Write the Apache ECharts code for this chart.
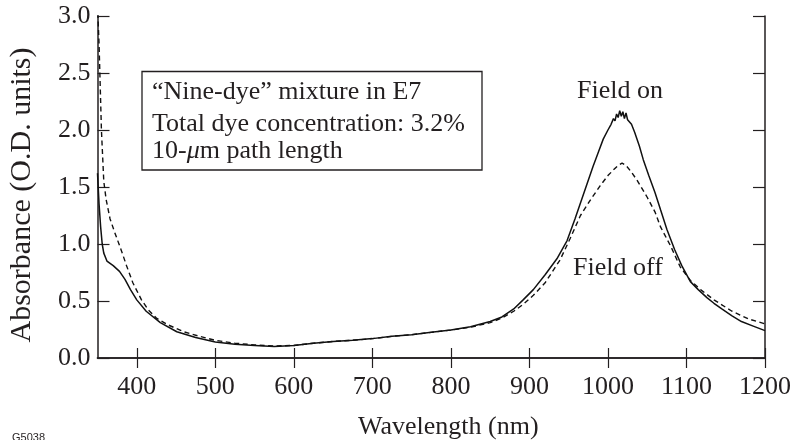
<!DOCTYPE html>
<html>
<head>
<meta charset="utf-8">
<script src="https://cdn.jsdelivr.net/npm/echarts@6/dist/echarts.min.js"></script>
<style>html,body{margin:0;padding:0;background:#fff}#c{width:794px;height:440px}</style>
</head>
<body>
<div id="c"></div>
<script>
// Field on (solid)
var onWl = [350,352,354,356,358,362,366,370,378,385,392,400,412,430,451,475,500,525,550,575,600,625,650,675,700,725,750,775,800,825,850,865,880,892,905,920,935,948,958,965,973,981,988,994,1000,1004,1007,1009,1011,1013,1015,1017,1019,1021,1023,1025,1027,1030,1034,1040,1045,1052,1060,1067,1075,1085,1094,1105,1115,1126,1135,1145,1158,1170,1185,1200];
var onAbs = [1.62,1.35,1.15,1.0,0.92,0.85,0.83,0.81,0.76,0.69,0.6,0.51,0.41,0.31,0.23,0.18,0.14,0.12,0.11,0.10,0.11,0.13,0.145,0.155,0.17,0.19,0.205,0.225,0.245,0.275,0.32,0.36,0.43,0.51,0.6,0.73,0.87,1.03,1.22,1.36,1.52,1.68,1.81,1.92,2.0,2.05,2.1,2.08,2.14,2.11,2.17,2.12,2.16,2.1,2.15,2.09,2.1,2.05,1.98,1.86,1.74,1.6,1.45,1.3,1.13,0.95,0.81,0.67,0.6,0.53,0.48,0.43,0.37,0.32,0.28,0.24];
// Field off (dashed)
var offWl = [350,352,353,355,358,361,366,372,380,387,395,406,415,425,440,460,480,500,525,550,575,600,625,650,675,700,725,750,775,800,825,850,865,880,892,905,920,939,952,965,978,990,1000,1007,1013,1018,1023,1030,1037,1050,1060,1067,1080,1092,1105,1118,1135,1158,1180,1200];
var offAbs = [3.1,2.75,2.5,2.0,1.55,1.39,1.22,1.1,0.95,0.81,0.66,0.51,0.42,0.35,0.29,0.23,0.19,0.155,0.13,0.115,0.105,0.11,0.13,0.145,0.155,0.17,0.19,0.205,0.225,0.245,0.27,0.31,0.35,0.41,0.47,0.55,0.66,0.86,1.05,1.25,1.39,1.51,1.6,1.65,1.69,1.71,1.69,1.63,1.56,1.41,1.28,1.15,0.98,0.8,0.68,0.60,0.51,0.41,0.34,0.30];
var xTicks = [400,500,600,700,800,900,1000,1100,1200];
var yTicks = [0,0.5,1.0,1.5,2.0,2.5,3.0];

function zip(a,b){return a.map(function(v,i){return [v,b[i]];});}
var serif = '"Liberation Serif","DejaVu Serif",serif';
var ink = '#231f20';
var chart = echarts.init(document.getElementById('c'));
var axisLine = {show:true, lineStyle:{color:ink, width:1.5}};
function txt(s, x, y, extra){
  var st = {text:s, x:x, y:y, font:'26px '+serif, fill:ink, verticalAlign:'middle', align:'left'};
  for (var k in (extra||{})) st[k]=extra[k];
  return {type:'text', z:11, style:st};
}
chart.setOption({
  animation:false,
  grid:{left:97.5, right:29, top:16, bottom:82},
  xAxis:[{
    type:'value', min:350, max:1200, position:'bottom',
    axisLine:axisLine,
    axisTick:{show:true, inside:true, length:10, customValues:xTicks, lineStyle:{color:ink,width:1.2}},
    axisLabel:{customValues:xTicks, fontFamily:serif, fontSize:26, color:ink, margin:16, formatter:function(v){return String(v);}},
    splitLine:{show:false}
  },{
    type:'value', min:350, max:1200, position:'top',
    axisLine:axisLine,
    axisTick:{show:true, inside:true, length:10, customValues:xTicks, lineStyle:{color:ink,width:1.2}},
    axisLabel:{show:false}, splitLine:{show:false}
  }],
  yAxis:[{
    type:'value', min:0, max:3, interval:0.5, position:'left',
    axisLine:axisLine,
    axisTick:{show:true, inside:true, length:12, lineStyle:{color:ink,width:1.2}},
    axisLabel:{customValues:yTicks, fontFamily:serif, fontSize:26, color:ink, margin:7, formatter:function(v){return v.toFixed(1);}},
    splitLine:{show:false}
  },{
    type:'value', min:0, max:3, interval:0.5, position:'right',
    axisLine:axisLine,
    axisTick:{show:true, inside:true, length:12, lineStyle:{color:ink,width:1.2}},
    axisLabel:{show:false}, splitLine:{show:false}
  }],
  series:[{
    name:'Field on', type:'line', data:zip(onWl,onAbs), showSymbol:false, symbol:'none',
    lineStyle:{color:'#111', width:1.5, type:'solid'}, clip:true, z:3
  },{
    name:'Field off', type:'line', data:zip(offWl,offAbs), showSymbol:false, symbol:'none',
    lineStyle:{color:'#111', width:1.4, type:[5,3.5]}, clip:true, z:2
  }],
  graphic:[
    {type:'rect', z:10, shape:{x:142, y:71.5, width:340, height:98.5}, style:{fill:'#fff', stroke:ink, lineWidth:1.3}},
    txt('\u201cNine-dye\u201d mixture in E7', 152, 92),
    txt('Total dye concentration: 3.2%', 152, 124),
    txt('10-{i|\u03bc}m path length', 152, 151, {rich:{i:{fontStyle:'italic', fontFamily:serif, fontSize:26, fill:ink}}}),
    txt('Field on', 577, 91),
    txt('Field off', 573, 268),
    txt('Wavelength (nm)', 358, 427),
    {type:'text', z:11, x:22, y:195, rotation:Math.PI/2,
      style:{text:'Absorbance (O.D. units)', x:0, y:0, font:'30px '+serif, fill:ink, align:'center', verticalAlign:'middle'}},
    {type:'text', z:11, style:{text:'G5038', x:12, y:432, font:'11px "Liberation Sans",Arial,sans-serif', fill:ink}}
  ]
});
</script>
</body>
</html>
